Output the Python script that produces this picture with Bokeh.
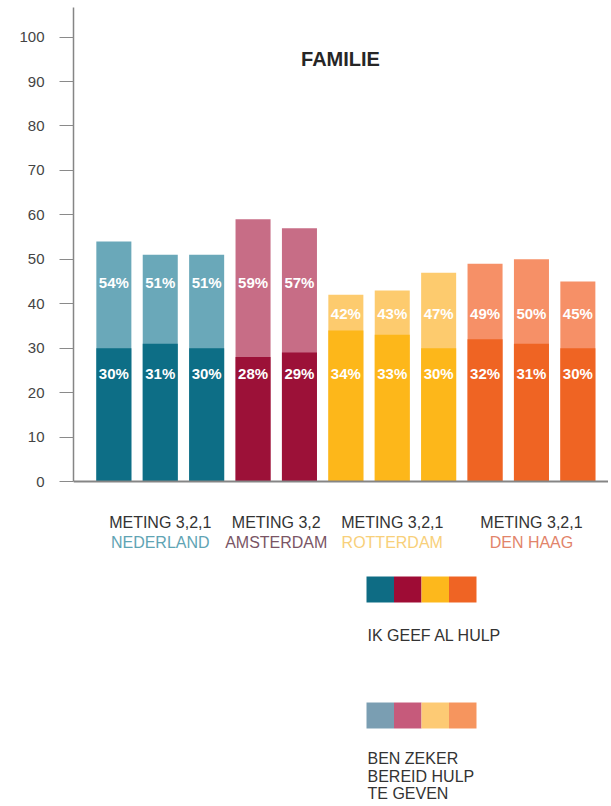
from bokeh.plotting import figure
from bokeh.models import Range1d, FixedTicker, Span, ColumnDataSource
from bokeh.core.properties import value
from bokeh.embed import file_html
from bokeh.resources import INLINE

# ---------------- data ----------------
cities = ["NEDERLAND", "AMSTERDAM", "ROTTERDAM", "DEN HAAG"]
meting_labels = ["METING 3,2,1", "METING 3,2", "METING 3,2,1", "METING 3,2,1"]
bars_per_city = [3, 2, 3, 3]
ik_geef_al_hulp = [30, 31, 30, 28, 29, 34, 33, 30, 32, 31, 30]
zeker_bereid = [54, 51, 51, 59, 57, 42, 43, 47, 49, 50, 45]
y_ticks = [0, 10, 20, 30, 40, 50, 60, 70, 80, 90, 100]
title_text = "FAMILIE"
legend_text_1 = ["IK GEEF AL HULP"]
legend_text_2 = ["BEN ZEKER", "BEREID HULP", "TE GEVEN"]

# ---------------- styles ----------------
dark_colors = {"NEDERLAND": "#0D6E86", "AMSTERDAM": "#9C1138",
               "ROTTERDAM": "#FDB71A", "DEN HAAG": "#EF6423"}
light_colors = {"NEDERLAND": "#6AA8B9", "AMSTERDAM": "#C76D86",
                "ROTTERDAM": "#FDCB6E", "DEN HAAG": "#F69067"}
legend_dark = ["#0E6C84", "#9E0C35", "#FDB81C", "#EF6424"]
legend_light = ["#7A9EB2", "#C65A7B", "#FDCA74", "#F6955E"]
city_label_colors = ["#5FA4B4", "#7A5565", "#F8D07A", "#E2846A"]
FONT = "Liberation Sans"

# layout helpers (picture pixel -> data units)
def xs(px):
    return (px - 113.35) / 46.4

def ys(py):
    return (481 - py) / 4.444

W, H = 608, 804
LEFT = 73
x_start, x_end = xs(LEFT), xs(W)
y_top, y_bot = ys(0), ys(H)

p = figure(width=W, height=H, output_backend="svg", toolbar_location=None,
           x_range=Range1d(x_start, x_end), y_range=Range1d(y_bot, y_top))
p.min_border = 0
p.min_border_left = LEFT
p.xaxis.visible = False
p.grid.visible = False
p.outline_line_color = None
p.background_fill_color = "white"
p.border_fill_color = "white"

ya = p.yaxis[0]
ya.ticker = FixedTicker(ticks=y_ticks)
ya.bounds = (0, ys(7))
ya.major_tick_in = 0
ya.major_tick_out = 14
ya.minor_tick_line_color = None
ya.axis_line_color = "#858585"
ya.axis_line_width = 1.5
ya.major_tick_line_color = "#8a8a8a"
ya.major_label_text_font = FONT
ya.major_label_text_font_size = "15px"
ya.major_label_text_color = "#444444"
ya.major_label_standoff = 15

# bars
bar_city = []
for c, n in zip(cities, bars_per_city):
    bar_city += [c] * n
xpos = list(range(len(ik_geef_al_hulp)))
light_label_level = {"NEDERLAND": ys(282), "AMSTERDAM": ys(282),
                     "ROTTERDAM": ys(313), "DEN HAAG": ys(313)}
src = ColumnDataSource(dict(
    x=xpos, dark=ik_geef_al_hulp, light=zeker_bereid,
    dcol=[dark_colors[c] for c in bar_city],
    lcol=[light_colors[c] for c in bar_city],
    dtxt=[f"{v}%" for v in ik_geef_al_hulp],
    ltxt=[f"{v}%" for v in zeker_bereid],
    ly=[light_label_level[c] for c in bar_city],
    dy=[ys(373)] * len(xpos),
))
p.vbar(x="x", top="light", bottom=0, width=0.755, fill_color="lcol",
       line_color=None, source=src)
p.vbar(x="x", top="dark", bottom=0, width=0.755, fill_color="dcol",
       line_color=None, source=src)
for col_y, col_t in (("ly", "ltxt"), ("dy", "dtxt")):
    p.text(x="x", y=col_y, text=col_t, source=src, text_align="center",
           text_baseline="middle", text_font=value(FONT),
           text_font_style="bold", text_font_size="15px", text_color="white")

p.add_layout(Span(location=0, dimension="width", line_color="#858585",
                  line_width=2))

# title
p.text(x=[xs(340)], y=[ys(58)], text=[title_text], text_align="center",
       text_baseline="middle", text_font=value(FONT), text_font_style="bold",
       text_font_size="20px", text_color="#262626")

# group labels
centers = []
start = 0
for n in bars_per_city:
    centers.append(start + (n - 1) / 2)
    start += n
p.text(x=centers, y=[ys(522)] * 4, text=meting_labels, text_align="center",
       text_baseline="alphabetic", text_font=value(FONT),
       text_font_size="16px", text_color="#333333")
p.text(x=centers, y=[ys(542)] * 4, text=cities, text_align="center",
       text_baseline="alphabetic", text_font=value(FONT),
       text_font_size="16px", text_color=city_label_colors)

# legend
sw_left = [xs(366 + 27.5 * i) for i in range(4)]
sw_right = [xs(366 + 27.5 * (i + 1)) for i in range(4)]
p.quad(left=sw_left, right=sw_right, top=[ys(576)] * 4, bottom=[ys(602)] * 4,
       fill_color=legend_dark, line_color=None)
p.quad(left=sw_left, right=sw_right, top=[ys(702)] * 4, bottom=[ys(728)] * 4,
       fill_color=legend_light, line_color=None)
p.text(x=[xs(367)], y=[ys(635)], text=legend_text_1, text_align="left",
       text_baseline="alphabetic", text_font=value(FONT),
       text_font_size="16px", text_color="#333333")
p.text(x=[xs(367)] * 3, y=[ys(758), ys(775.5), ys(793)], text=legend_text_2,
       text_align="left", text_baseline="alphabetic", text_font=value(FONT),
       text_font_size="16px", text_color="#333333")

open("out.html", "w").write(file_html(p, INLINE))
